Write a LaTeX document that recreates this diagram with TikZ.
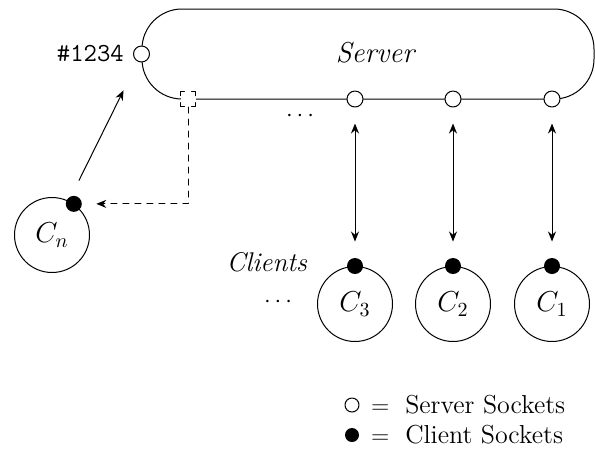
\documentclass[tikz,border=0pt]{standalone}
\usetikzlibrary{positioning,arrows.meta}

\begin{document}
\begin{tikzpicture}[x=0.5pt, y=-0.5pt, font=\large, line width=0.5pt, line join=round, line cap=round, >={Stealth[length=5pt,width=4pt]},
	sock/.style={circle, draw, fill=white, inner sep=0pt, minimum size=8pt},
	csock/.style={circle, fill=black, inner sep=0pt, minimum size=8pt},
	client/.style={circle, draw, inner sep=0pt, minimum size=37.5pt, font=\Large}]
	\useasboundingbox (0,0) rectangle (595,452);
	% server with its listening port
	\node[draw, rounded corners=20pt, minimum width=226pt, minimum height=45pt] (srv) at (368,54) {};
	\node[font=\Large] (srvname) at (376,53) {\textit{Server}};
	\node[sock] (port) at (srv.west) {};
	\node[left=1pt of port, font=\fontsize{13}{15}\selectfont] (portno) {\texttt{\#1234}};
	% accepted sockets and their clients
	\foreach \i/\x in {1/552, 2/453, 3/355} {
		\node[sock] (s\i) at (\x,99) {};
		\node[client] (c\i) at (\x,304) {$C_\i$};
		\node[csock] (d\i) at (c\i.north) {};
		\draw[<->, shorten <=8pt, shorten >=8pt] (s\i) -- (d\i);
	}
	\node (dtop) at (300,116) {$\cdots$};
	\node (dcl) at (278,302) {$\cdots$};
	\node[font=\fontsize{13.5}{16}\selectfont] (lbl) at (267,262) {\textit{Clients}};
	% new client connecting
	\node[client] (cn) at (52,235) {$C_n$};
	\node[csock] (dn) at (cn.55) {};
	\node[draw, fill=white, inner sep=0pt, minimum size=7.5pt, dash pattern=on 4pt off 3.5pt, dash phase=2pt] (sq) at (188,99) {};
	\draw[->, shorten <=11.5pt, shorten >=16pt] (cn) -- (port);
	\draw[->, dashed, shorten >=7pt] (sq.south) |- (dn);
	% legend
	\tikzset{legtxt/.style={right=5.5pt of #1, inner sep=0pt, font=\fontsize{13}{15}\selectfont}}
	\node[sock, minimum size=7pt] (lgs) at (352,405) {};
	\node[legtxt=lgs] (lgstxt) {$=$\hspace{8pt}Server Sockets};
	\node[csock, minimum size=7pt] (lgc) at (352,435) {};
	\node[legtxt=lgc] (lgctxt) {$=$\hspace{8pt}Client Sockets};
\end{tikzpicture}
\end{document}
